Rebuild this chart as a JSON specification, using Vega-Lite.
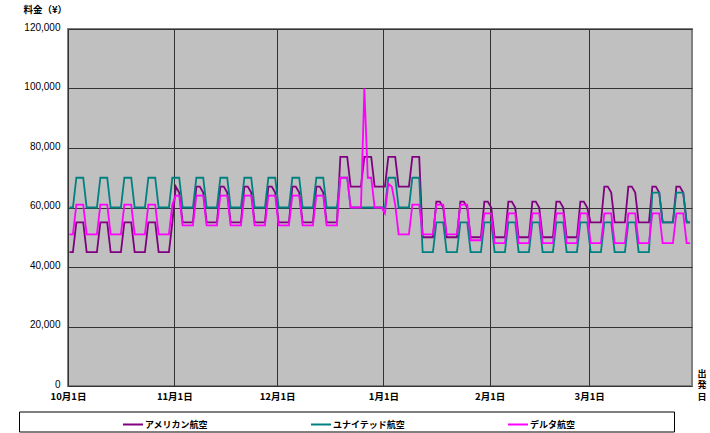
{
"$schema": "https://vega.github.io/schema/vega-lite/v6.json",
"width": 624, "height": 357,
"autosize": {"type": "none"},
"padding": {"left": 68, "top": 29, "right": 18, "bottom": 47},
"background": "white",
"config": {
  "view": {"fill": "#C0C0C0", "stroke": "#808080", "strokeWidth": 2},
  "axis": {"domain": false, "ticks": false, "grid": true, "gridColor": "#333333", "gridWidth": 1, "gridOpacity": 1, "labelColor": "black", "titleColor": "black"}
},
"data": {"values": [
{"t":"2003-10-01","A":45000,"U":60000,"D":51000},
{"t":"2003-10-02","A":45000,"U":60000,"D":51000},
{"t":"2003-10-03","A":55000,"U":70000,"D":61000},
{"t":"2003-10-04","A":55000,"U":70000,"D":61000},
{"t":"2003-10-05","A":55000,"U":70000,"D":61000},
{"t":"2003-10-06","A":45000,"U":60000,"D":51000},
{"t":"2003-10-07","A":45000,"U":60000,"D":51000},
{"t":"2003-10-08","A":45000,"U":60000,"D":51000},
{"t":"2003-10-09","A":45000,"U":60000,"D":51000},
{"t":"2003-10-10","A":55000,"U":70000,"D":61000},
{"t":"2003-10-11","A":55000,"U":70000,"D":61000},
{"t":"2003-10-12","A":55000,"U":70000,"D":61000},
{"t":"2003-10-13","A":45000,"U":60000,"D":51000},
{"t":"2003-10-14","A":45000,"U":60000,"D":51000},
{"t":"2003-10-15","A":45000,"U":60000,"D":51000},
{"t":"2003-10-16","A":45000,"U":60000,"D":51000},
{"t":"2003-10-17","A":55000,"U":70000,"D":61000},
{"t":"2003-10-18","A":55000,"U":70000,"D":61000},
{"t":"2003-10-19","A":55000,"U":70000,"D":61000},
{"t":"2003-10-20","A":45000,"U":60000,"D":51000},
{"t":"2003-10-21","A":45000,"U":60000,"D":51000},
{"t":"2003-10-22","A":45000,"U":60000,"D":51000},
{"t":"2003-10-23","A":45000,"U":60000,"D":51000},
{"t":"2003-10-24","A":55000,"U":70000,"D":61000},
{"t":"2003-10-25","A":55000,"U":70000,"D":61000},
{"t":"2003-10-26","A":55000,"U":70000,"D":61000},
{"t":"2003-10-27","A":45000,"U":60000,"D":51000},
{"t":"2003-10-28","A":45000,"U":60000,"D":51000},
{"t":"2003-10-29","A":45000,"U":60000,"D":51000},
{"t":"2003-10-30","A":45000,"U":60000,"D":51000},
{"t":"2003-10-31","A":55000,"U":70000,"D":61000},
{"t":"2003-11-01","A":67000,"U":70000,"D":64000},
{"t":"2003-11-02","A":65000,"U":70000,"D":64000},
{"t":"2003-11-03","A":55000,"U":60000,"D":54000},
{"t":"2003-11-04","A":55000,"U":60000,"D":54000},
{"t":"2003-11-05","A":55000,"U":60000,"D":54000},
{"t":"2003-11-06","A":55000,"U":60000,"D":54000},
{"t":"2003-11-07","A":67000,"U":70000,"D":64000},
{"t":"2003-11-08","A":67000,"U":70000,"D":64000},
{"t":"2003-11-09","A":65000,"U":70000,"D":64000},
{"t":"2003-11-10","A":55000,"U":60000,"D":54000},
{"t":"2003-11-11","A":55000,"U":60000,"D":54000},
{"t":"2003-11-12","A":55000,"U":60000,"D":54000},
{"t":"2003-11-13","A":55000,"U":60000,"D":54000},
{"t":"2003-11-14","A":67000,"U":70000,"D":64000},
{"t":"2003-11-15","A":67000,"U":70000,"D":64000},
{"t":"2003-11-16","A":65000,"U":70000,"D":64000},
{"t":"2003-11-17","A":55000,"U":60000,"D":54000},
{"t":"2003-11-18","A":55000,"U":60000,"D":54000},
{"t":"2003-11-19","A":55000,"U":60000,"D":54000},
{"t":"2003-11-20","A":55000,"U":60000,"D":54000},
{"t":"2003-11-21","A":67000,"U":70000,"D":64000},
{"t":"2003-11-22","A":67000,"U":70000,"D":64000},
{"t":"2003-11-23","A":65000,"U":70000,"D":64000},
{"t":"2003-11-24","A":55000,"U":60000,"D":54000},
{"t":"2003-11-25","A":55000,"U":60000,"D":54000},
{"t":"2003-11-26","A":55000,"U":60000,"D":54000},
{"t":"2003-11-27","A":55000,"U":60000,"D":54000},
{"t":"2003-11-28","A":67000,"U":70000,"D":64000},
{"t":"2003-11-29","A":67000,"U":70000,"D":64000},
{"t":"2003-11-30","A":65000,"U":70000,"D":64000},
{"t":"2003-12-01","A":55000,"U":60000,"D":54000},
{"t":"2003-12-02","A":55000,"U":60000,"D":54000},
{"t":"2003-12-03","A":55000,"U":60000,"D":54000},
{"t":"2003-12-04","A":55000,"U":60000,"D":54000},
{"t":"2003-12-05","A":67000,"U":70000,"D":64000},
{"t":"2003-12-06","A":67000,"U":70000,"D":64000},
{"t":"2003-12-07","A":65000,"U":70000,"D":64000},
{"t":"2003-12-08","A":55000,"U":60000,"D":54000},
{"t":"2003-12-09","A":55000,"U":60000,"D":54000},
{"t":"2003-12-10","A":55000,"U":60000,"D":54000},
{"t":"2003-12-11","A":55000,"U":60000,"D":54000},
{"t":"2003-12-12","A":67000,"U":70000,"D":64000},
{"t":"2003-12-13","A":67000,"U":70000,"D":64000},
{"t":"2003-12-14","A":65000,"U":70000,"D":64000},
{"t":"2003-12-15","A":55000,"U":60000,"D":54000},
{"t":"2003-12-16","A":55000,"U":60000,"D":54000},
{"t":"2003-12-17","A":55000,"U":60000,"D":54000},
{"t":"2003-12-18","A":55000,"U":60000,"D":54000},
{"t":"2003-12-19","A":77000,"U":70000,"D":70000},
{"t":"2003-12-20","A":77000,"U":70000,"D":70000},
{"t":"2003-12-21","A":77000,"U":70000,"D":70000},
{"t":"2003-12-22","A":67000,"U":60000,"D":60000},
{"t":"2003-12-23","A":67000,"U":60000,"D":60000},
{"t":"2003-12-24","A":67000,"U":60000,"D":60000},
{"t":"2003-12-25","A":67000,"U":60000,"D":60000},
{"t":"2003-12-26","A":77000,"U":60000,"D":100000},
{"t":"2003-12-27","A":77000,"U":60000,"D":70000},
{"t":"2003-12-28","A":77000,"U":60000,"D":70000},
{"t":"2003-12-29","A":67000,"U":60000,"D":60000},
{"t":"2003-12-30","A":67000,"U":60000,"D":60000},
{"t":"2003-12-31","A":67000,"U":60000,"D":60000},
{"t":"2004-01-01","A":67000,"U":60000,"D":58000},
{"t":"2004-01-02","A":77000,"U":70000,"D":68000},
{"t":"2004-01-03","A":77000,"U":70000,"D":67000},
{"t":"2004-01-04","A":77000,"U":70000,"D":61000},
{"t":"2004-01-05","A":67000,"U":60000,"D":51000},
{"t":"2004-01-06","A":67000,"U":60000,"D":51000},
{"t":"2004-01-07","A":67000,"U":60000,"D":51000},
{"t":"2004-01-08","A":67000,"U":60000,"D":51000},
{"t":"2004-01-09","A":77000,"U":70000,"D":61000},
{"t":"2004-01-10","A":77000,"U":70000,"D":61000},
{"t":"2004-01-11","A":77000,"U":70000,"D":61000},
{"t":"2004-01-12","A":50000,"U":45000,"D":51000},
{"t":"2004-01-13","A":50000,"U":45000,"D":51000},
{"t":"2004-01-14","A":50000,"U":45000,"D":51000},
{"t":"2004-01-15","A":50000,"U":45000,"D":51000},
{"t":"2004-01-16","A":62000,"U":55000,"D":61000},
{"t":"2004-01-17","A":62000,"U":55000,"D":61000},
{"t":"2004-01-18","A":60000,"U":55000,"D":61000},
{"t":"2004-01-19","A":50000,"U":45000,"D":51000},
{"t":"2004-01-20","A":50000,"U":45000,"D":51000},
{"t":"2004-01-21","A":50000,"U":45000,"D":51000},
{"t":"2004-01-22","A":50000,"U":45000,"D":51000},
{"t":"2004-01-23","A":62000,"U":55000,"D":61000},
{"t":"2004-01-24","A":62000,"U":55000,"D":61000},
{"t":"2004-01-25","A":60000,"U":55000,"D":61000},
{"t":"2004-01-26","A":50000,"U":45000,"D":49000},
{"t":"2004-01-27","A":50000,"U":45000,"D":49000},
{"t":"2004-01-28","A":50000,"U":45000,"D":49000},
{"t":"2004-01-29","A":50000,"U":45000,"D":49000},
{"t":"2004-01-30","A":62000,"U":55000,"D":58000},
{"t":"2004-01-31","A":62000,"U":55000,"D":58000},
{"t":"2004-02-01","A":60000,"U":55000,"D":58000},
{"t":"2004-02-02","A":50000,"U":45000,"D":48000},
{"t":"2004-02-03","A":50000,"U":45000,"D":48000},
{"t":"2004-02-04","A":50000,"U":45000,"D":48000},
{"t":"2004-02-05","A":50000,"U":45000,"D":48000},
{"t":"2004-02-06","A":62000,"U":55000,"D":58000},
{"t":"2004-02-07","A":62000,"U":55000,"D":58000},
{"t":"2004-02-08","A":60000,"U":55000,"D":58000},
{"t":"2004-02-09","A":50000,"U":45000,"D":48000},
{"t":"2004-02-10","A":50000,"U":45000,"D":48000},
{"t":"2004-02-11","A":50000,"U":45000,"D":48000},
{"t":"2004-02-12","A":50000,"U":45000,"D":48000},
{"t":"2004-02-13","A":62000,"U":55000,"D":58000},
{"t":"2004-02-14","A":62000,"U":55000,"D":58000},
{"t":"2004-02-15","A":60000,"U":55000,"D":58000},
{"t":"2004-02-16","A":50000,"U":45000,"D":48000},
{"t":"2004-02-17","A":50000,"U":45000,"D":48000},
{"t":"2004-02-18","A":50000,"U":45000,"D":48000},
{"t":"2004-02-19","A":50000,"U":45000,"D":48000},
{"t":"2004-02-20","A":62000,"U":55000,"D":58000},
{"t":"2004-02-21","A":62000,"U":55000,"D":58000},
{"t":"2004-02-22","A":60000,"U":55000,"D":58000},
{"t":"2004-02-23","A":50000,"U":45000,"D":48000},
{"t":"2004-02-24","A":50000,"U":45000,"D":48000},
{"t":"2004-02-25","A":50000,"U":45000,"D":48000},
{"t":"2004-02-26","A":50000,"U":45000,"D":48000},
{"t":"2004-02-27","A":62000,"U":55000,"D":58000},
{"t":"2004-02-28","A":62000,"U":55000,"D":58000},
{"t":"2004-02-29","A":60000,"U":55000,"D":58000},
{"t":"2004-03-01","A":55000,"U":45000,"D":48000},
{"t":"2004-03-02","A":55000,"U":45000,"D":48000},
{"t":"2004-03-03","A":55000,"U":45000,"D":48000},
{"t":"2004-03-04","A":55000,"U":45000,"D":48000},
{"t":"2004-03-05","A":67000,"U":55000,"D":58000},
{"t":"2004-03-06","A":67000,"U":55000,"D":58000},
{"t":"2004-03-07","A":65000,"U":55000,"D":58000},
{"t":"2004-03-08","A":55000,"U":45000,"D":48000},
{"t":"2004-03-09","A":55000,"U":45000,"D":48000},
{"t":"2004-03-10","A":55000,"U":45000,"D":48000},
{"t":"2004-03-11","A":55000,"U":45000,"D":48000},
{"t":"2004-03-12","A":67000,"U":55000,"D":58000},
{"t":"2004-03-13","A":67000,"U":55000,"D":58000},
{"t":"2004-03-14","A":65000,"U":55000,"D":58000},
{"t":"2004-03-15","A":55000,"U":45000,"D":48000},
{"t":"2004-03-16","A":55000,"U":45000,"D":48000},
{"t":"2004-03-17","A":55000,"U":45000,"D":48000},
{"t":"2004-03-18","A":55000,"U":45000,"D":48000},
{"t":"2004-03-19","A":67000,"U":65000,"D":58000},
{"t":"2004-03-20","A":67000,"U":65000,"D":58000},
{"t":"2004-03-21","A":65000,"U":65000,"D":58000},
{"t":"2004-03-22","A":55000,"U":55000,"D":48000},
{"t":"2004-03-23","A":55000,"U":55000,"D":48000},
{"t":"2004-03-24","A":55000,"U":55000,"D":48000},
{"t":"2004-03-25","A":55000,"U":55000,"D":48000},
{"t":"2004-03-26","A":67000,"U":65000,"D":58000},
{"t":"2004-03-27","A":67000,"U":65000,"D":58000},
{"t":"2004-03-28","A":65000,"U":65000,"D":58000},
{"t":"2004-03-29","A":55000,"U":55000,"D":48000},
{"t":"2004-03-30","A":55000,"U":55000,"D":48000}
]},
"transform": [{"fold": ["A", "U", "D"], "as": ["airline", "price"]}],
"mark": {"type": "line", "strokeWidth": 1.8, "xOffset": 1.5},
"encoding": {
  "x": {
    "field": "t", "type": "temporal",
    "scale": {"type": "utc", "domain": [{"year": 2003, "month": 10, "date": 1, "utc": true}, {"year": 2004, "month": 3, "date": 31, "utc": true}]},
    "axis": {
      "values": [
        {"year": 2003, "month": 10, "date": 1, "utc": true},
        {"year": 2003, "month": 11, "date": 1, "utc": true},
        {"year": 2003, "month": 12, "date": 1, "utc": true},
        {"year": 2004, "month": 1, "date": 1, "utc": true},
        {"year": 2004, "month": 2, "date": 1, "utc": true},
        {"year": 2004, "month": 3, "date": 1, "utc": true}
      ],
      "labelExpr": "utcFormat(datum.value, '%-m月%-d日')",
      "labelFlush": false, "labelOverlap": false,
      "labelFont": "Noto Sans CJK JP", "labelFontSize": 9.5, "labelFontWeight": "bold", "labelPadding": 5,
      "title": ["出", "発", "日"],
      "titleFont": "Noto Sans CJK JP", "titleFontSize": 9, "titleFontWeight": "bold", "titleLineHeight": 11.7,
      "titleAngle": 0, "titleAlign": "center", "titleBaseline": "top", "titleX": 633.5, "titleY": -17
    }
  },
  "y": {
    "field": "price", "type": "quantitative",
    "scale": {"domain": [0, 120000], "nice": false},
    "axis": {
      "values": [0, 20000, 40000, 60000, 80000, 100000, 120000],
      "format": ",d",
      "labelFont": "Liberation Sans", "labelFontSize": 10, "labelPadding": 8, "labelOffset": -2,
      "title": "料金（¥）",
      "titleFont": "Noto Sans CJK JP", "titleFontSize": 9.5, "titleFontWeight": "bold",
      "titleAngle": 0, "titleAlign": "left", "titleBaseline": "middle", "titleX": -45, "titleY": -20
    }
  },
  "color": {
    "field": "airline", "type": "nominal",
    "scale": {"domain": ["A", "U", "D"], "range": ["#800080", "#008080", "#FF00FF"]},
    "legend": {
      "orient": "none", "legendX": -49, "legendY": 382.5, "direction": "horizontal",
      "title": " ", "titleOrient": "right", "titlePadding": 97, "titleFontSize": 9,
      "symbolType": "stroke", "symbolSize": 400, "symbolStrokeWidth": 2,
      "symbolOffset": 101, "labelOffset": 1, "columnPadding": 0,
      "labelExpr": "datum.label == 'A' ? 'アメリカン航空' : datum.label == 'U' ? 'ユナイテッド航空' : 'デルタ航空'",
      "labelFont": "Noto Sans CJK JP", "labelFontSize": 9, "labelFontWeight": "bold", "labelColor": "black",
      "strokeColor": "black", "fillColor": "white", "padding": 2
    }
  }
}
}
